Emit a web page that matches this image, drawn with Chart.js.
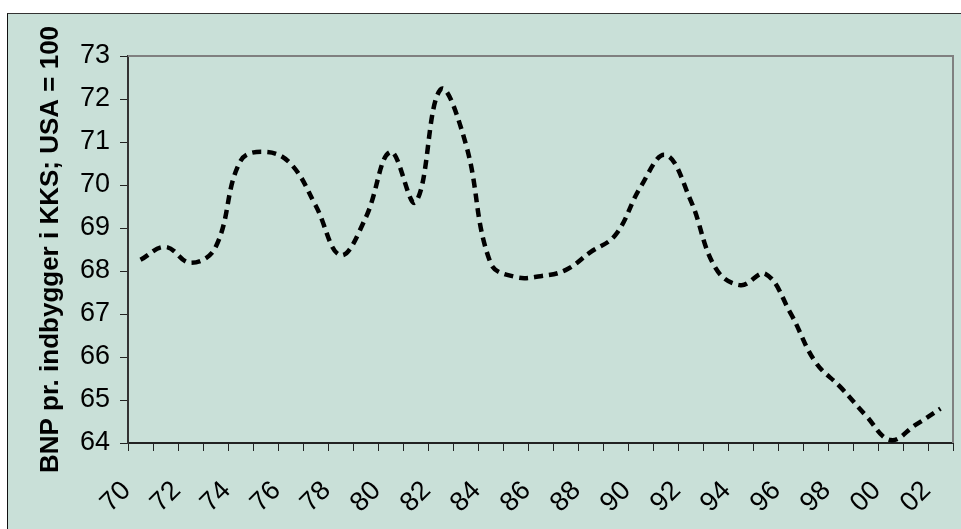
<!DOCTYPE html>
<html>
<head>
<meta charset="utf-8">
<script src="https://cdn.jsdelivr.net/npm/chart.js@4"></script>
<style>
  html, body { margin: 0; padding: 0; background: #ffffff; }
  #box { position: absolute; left: 7px; top: 13px; width: 954px; height: 516px;
         box-sizing: border-box; border-top: 1px solid #333; border-left: 1px solid #111;
         background: #C9E0D8; }
  canvas { display: block; }
</style>
</head>
<body>
<div id="box"><canvas id="c" width="953" height="515"></canvas></div>
<script>
// Categories (years 1970-2002, shown as two-digit labels)
const years = ['70','71','72','73','74','75','76','77','78','79',
               '80','81','82','83','84','85','86','87','88','89',
               '90','91','92','93','94','95','96','97','98','99',
               '00','01','02'];
// BNP pr. indbygger i KKS; USA = 100
const bnpIndex = [68.26, 68.56, 68.19, 68.55, 70.56, 70.77, 70.50, 69.53, 68.37, 69.23,
                  70.77, 69.60, 72.22, 70.98, 68.19, 67.86, 67.88, 68.02, 68.44, 68.84,
                  69.95, 70.70, 69.65, 68.07, 67.67, 67.93, 67.02, 65.88, 65.30, 64.65,
                  64.07, 64.42, 64.80];
const yTicks = [64, 65, 66, 67, 68, 69, 70, 71, 72, 73];
const yTitle = 'BNP pr. indbygger i KKS; USA = 100';

const FONT = "'Liberation Sans', Arial, sans-serif";

const plotFrame = {
  id: 'plotFrame',
  beforeDatasetsDraw(chart) {
    const a = chart.chartArea, ctx = chart.ctx;
    ctx.save();
    ctx.strokeStyle = '#808080';
    ctx.lineWidth = 2;
    ctx.beginPath();
    ctx.moveTo(a.left, a.top);
    ctx.lineTo(a.right, a.top);
    ctx.lineTo(a.right, a.bottom);
    ctx.stroke();
    ctx.restore();
  }
};

new Chart(document.getElementById('c'), {
  type: 'line',
  data: {
    labels: years,
    datasets: [{
      data: bnpIndex,
      borderColor: '#000000',
      borderWidth: 4.5,
      borderDash: [9, 6],
      borderCapStyle: 'butt',
      pointRadius: 0,
      fill: false,
      tension: 0.4
    }]
  },
  options: {
    responsive: false,
    animation: false,
    devicePixelRatio: 1,
    layout: { padding: { top: 42, right: 8, left: 0, bottom: 0 } },
    plugins: { legend: { display: false }, tooltip: { enabled: false } },
    scales: {
      x: {
        type: 'category',
        offset: true,
        afterFit(s) { s.height = 86; s.paddingLeft = 0; s.paddingRight = 0; },
        grid: { offset: true, drawOnChartArea: false, drawTicks: true, tickLength: 8,
                color: '#222', lineWidth: 1 },
        border: { display: true, color: '#222', width: 2 },
        ticks: {
          autoSkip: false, minRotation: 45, maxRotation: 45,
          color: '#000', padding: 24, labelOffset: -14,
          font: { family: FONT, size: 27 },
          callback(v, i) { return i % 2 === 0 ? years[i] : ''; }
        }
      },
      y: {
        min: yTicks[0], max: yTicks[yTicks.length - 1],
        afterFit(s) { s.width = 120; },
        afterBuildTicks(s) { s.ticks = yTicks.map(v => ({ value: v })); },
        grid: { drawOnChartArea: false, drawTicks: true, tickLength: 8, color: '#222' },
        border: { display: true, color: '#333', width: 2 },
        ticks: { color: '#000', padding: 10, font: { family: FONT, size: 27 } },
        title: {
          display: true, text: yTitle, color: '#000',
          font: { family: FONT, size: 26, weight: 'bold' },
          padding: { top: 27, bottom: 0 }
        }
      }
    }
  },
  plugins: [plotFrame]
});
</script>
</body>
</html>
